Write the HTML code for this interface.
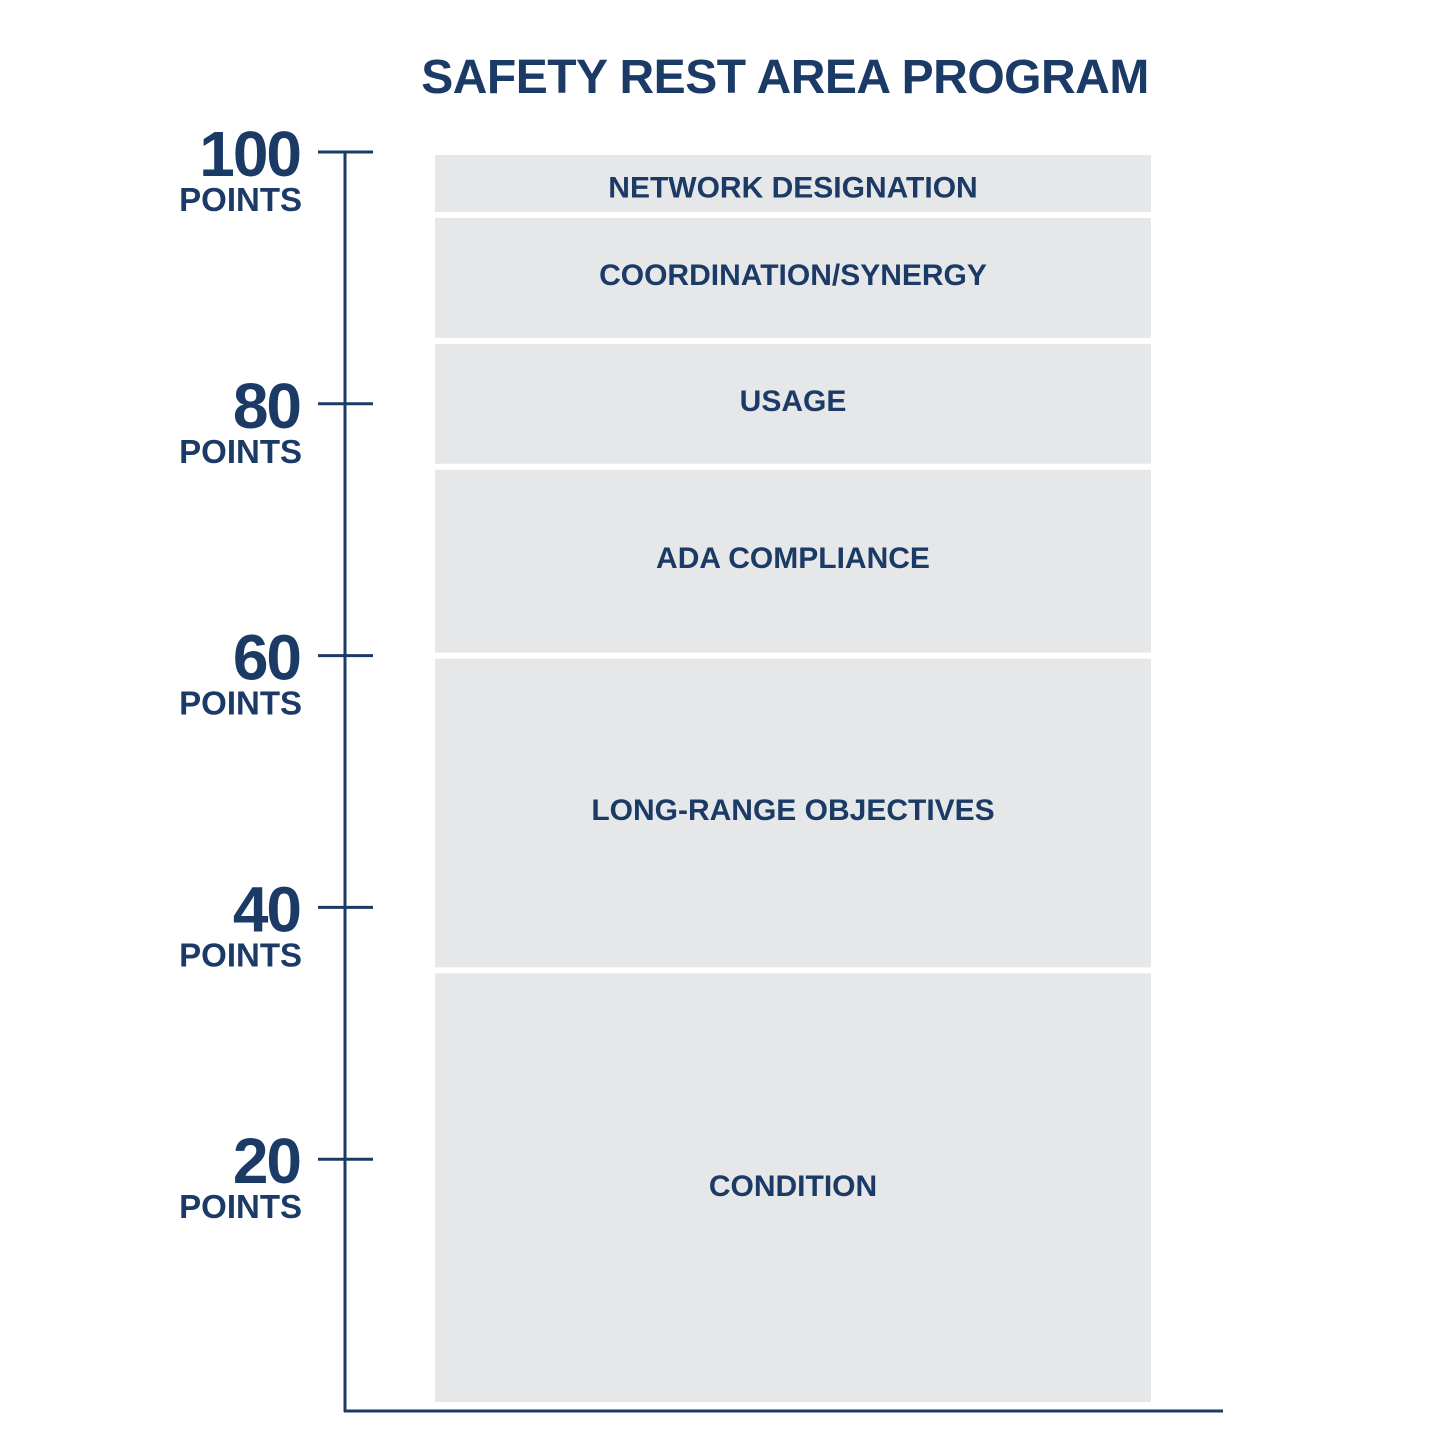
<!DOCTYPE html>
<html><head><meta charset="utf-8"><style>
html,body{margin:0;padding:0;background:#fff;}
body{width:1440px;height:1441px;overflow:hidden;}
svg{display:block;font-family:"Liberation Sans",sans-serif;}
</style></head><body>
<svg id="chart" width="1440" height="1441" viewBox="0 0 1440 1441">
<text x="785" y="93" text-anchor="middle" font-size="48" font-weight="bold" fill="#1b3a66" letter-spacing="-0.5">SAFETY REST AREA PROGRAM</text>
<g id="bars"></g>
<g id="axis"></g>
</svg>
<script>
const categories = ["CONDITION","LONG-RANGE OBJECTIVES","ADA COMPLIANCE","USAGE","COORDINATION/SYNERGY","NETWORK DESIGNATION"];
const values = [35,25,15,10,10,5];
const tickValues = [20,40,60,80,100];
const tickLabels = ["20","40","60","80","100"];

const NS = "http://www.w3.org/2000/svg";
const y0 = 1411, y100 = 152;
function yScale(v){ return y0 - (y0 - y100) * v / 100; }
const color = "#1b3a66";
const bars = document.getElementById('bars');
const axis = document.getElementById('axis');
const labelShift = [0, 0, -5, 7, 7, -1];
let cum = 0;
categories.forEach((c,i)=>{
  const top = yScale(cum + values[i]);
  const bot = yScale(cum);
  cum += values[i];
  const r = document.createElementNS(NS,'rect');
  
  
  r.setAttribute('x',435);
  r.setAttribute('width',716);
  const t = top + 3, b = (i===0 ? bot - 9 : bot - 3);
  r.setAttribute('y',t);
  r.setAttribute('height',b - t);
  r.setAttribute('fill','#e6e7e9');
  bars.appendChild(r);
  const tx = document.createElementNS(NS,'text');
  
  
  tx.setAttribute('x',793);
  let ty = i===0 ? 1196 : (i===1 ? 820 : (top+bot)/2 + 12 - (i===2?10:0));
  ty = ty - (i===2 ? -5 : 0) - (i===3 ? 5 : 0) - (i===4 ? 5 : 0) + (i===5 ? 2 : 0);
  tx.setAttribute('y', ty);
  tx.setAttribute('text-anchor','middle');
  tx.setAttribute('font-size','30');
  tx.setAttribute('font-weight','bold');
  tx.setAttribute('fill',color);
  tx.textContent = c;
  bars.appendChild(tx);
});
function line(x1,y1,x2,y2,name){
  const l = document.createElementNS(NS,'line');
  
  
  l.setAttribute('x1',x1);l.setAttribute('y1',y1);l.setAttribute('x2',x2);l.setAttribute('y2',y2);
  l.setAttribute('stroke',color);l.setAttribute('stroke-width',3);
  axis.appendChild(l);
}
line(345,yScale(100),345,y0+1,'y-axis-line');
line(344,y0,1223,y0,'x-axis-line');
tickValues.forEach((v,i)=>{
  const y = yScale(v);
  line(318,y,373,y,'y-tick');
  const n = document.createElementNS(NS,'text');
  
  
  n.setAttribute('x',300);n.setAttribute('y',y+24);
  n.setAttribute('text-anchor','end');n.setAttribute('font-size','64');
  n.setAttribute('font-weight','bold');n.setAttribute('fill',color);
  n.setAttribute('letter-spacing','-2');
  n.textContent = tickLabels[i];
  axis.appendChild(n);
  const p = document.createElementNS(NS,'text');
  
  
  p.setAttribute('x',302);p.setAttribute('y',y+59);
  p.setAttribute('text-anchor','end');p.setAttribute('font-size','33');
  p.setAttribute('font-weight','bold');p.setAttribute('fill',color);
  p.textContent = 'POINTS';
  axis.appendChild(p);
});
</script>
</body></html>
